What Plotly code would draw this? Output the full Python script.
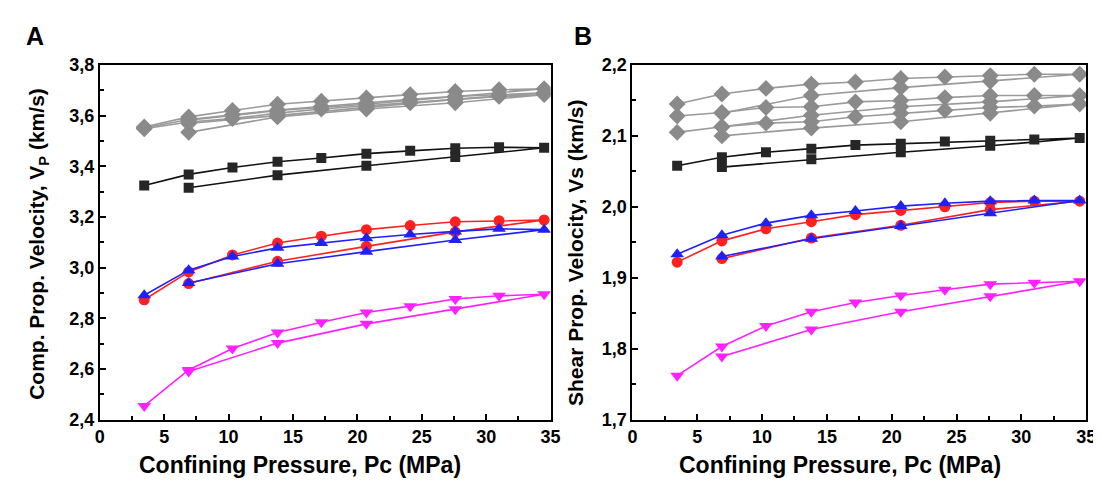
import plotly.graph_objects as go

# Pressure steps (MPa)
PRESS_LOAD = [6.9, 13.8, 20.7, 27.6, 34.5]
PRESS_UNLOAD = [31.0, 27.6, 24.1, 20.7, 17.2, 13.8, 10.3, 6.9, 3.45]

# Panel A: compressional velocity (km/s)
VP_GRAY1_LOAD = [3.582, 3.620, 3.645, 3.676, 3.706]
VP_GRAY1_UNLOAD = [3.702, 3.695, 3.683, 3.670, 3.657, 3.645, 3.620, 3.595, 3.555]
VP_GRAY2_LOAD = [3.569, 3.601, 3.633, 3.664, 3.690]
VP_GRAY2_UNLOAD = [3.683, 3.676, 3.664, 3.650, 3.636, 3.622, 3.603, 3.585, 3.551]
VP_GRAY3_LOAD = [3.534, 3.595, 3.626, 3.651, 3.683]
VP_GRAY3_UNLOAD = [3.676, 3.664, 3.651, 3.640, 3.626, 3.610, 3.588, 3.575, 3.548]
VP_BLACK_LOAD = [3.315, 3.365, 3.402, 3.437, 3.473]
VP_BLACK_UNLOAD = [3.475, 3.471, 3.461, 3.450, 3.433, 3.418, 3.395, 3.368, 3.324]
VP_RED_LOAD = [2.937, 3.025, 3.084, 3.141, 3.188]
VP_RED_UNLOAD = [3.185, 3.181, 3.166, 3.150, 3.124, 3.097, 3.050, 2.983, 2.873]
VP_BLUE_LOAD = [2.939, 3.015, 3.063, 3.109, 3.150]
VP_BLUE_UNLOAD = [3.153, 3.143, 3.131, 3.116, 3.097, 3.078, 3.044, 2.990, 2.891]
VP_MAG_LOAD = [2.590, 2.702, 2.778, 2.836, 2.895]
VP_MAG_UNLOAD = [2.889, 2.876, 2.848, 2.823, 2.784, 2.744, 2.681, 2.596, 2.454]

# Panel B: shear velocity (km/s)
VS_GRAY1_LOAD = [2.132, 2.157, 2.168, 2.177, 2.187]
VS_GRAY1_UNLOAD = [2.187, 2.185, 2.183, 2.181, 2.176, 2.173, 2.167, 2.159, 2.145]
VS_GRAY2_LOAD = [2.113, 2.129, 2.141, 2.148, 2.157]
VS_GRAY2_UNLOAD = [2.157, 2.157, 2.154, 2.150, 2.148, 2.141, 2.140, 2.133, 2.128]
VS_GRAY3_LOAD = [2.100, 2.111, 2.120, 2.132, 2.145]
VS_GRAY3_UNLOAD = [2.142, 2.140, 2.136, 2.132, 2.127, 2.120, 2.118, 2.113, 2.105]
VS_BLACK_LOAD = [2.056, 2.067, 2.077, 2.086, 2.097]
VS_BLACK_UNLOAD = [2.095, 2.093, 2.092, 2.089, 2.087, 2.082, 2.077, 2.070, 2.058]
VS_RED_LOAD = [1.927, 1.956, 1.974, 1.996, 2.008]
VS_RED_UNLOAD = [2.008, 2.006, 2.000, 1.995, 1.989, 1.979, 1.969, 1.952, 1.922]
VS_BLUE_LOAD = [1.930, 1.955, 1.973, 1.991, 2.009]
VS_BLUE_UNLOAD = [2.009, 2.008, 2.005, 2.001, 1.994, 1.988, 1.977, 1.960, 1.933]
VS_MAG_LOAD = [1.789, 1.827, 1.852, 1.874, 1.895]
VS_MAG_UNLOAD = [1.893, 1.891, 1.883, 1.875, 1.865, 1.852, 1.832, 1.803, 1.762]

GRAY_M = "#8a8a8a"
GRAY_L = "#9a9a9a"
BLACK = "#262626"
RED = "#ff2020"
BLUE = "#2020ff"
MAG = "#ff20ff"

STYLES = {
    "gray": dict(symbol="diamond", size=13, mcol=GRAY_M, lcol=GRAY_L),
    "black": dict(symbol="square", size=10, mcol=BLACK, lcol="#111111"),
    "red": dict(symbol="circle", size=11, mcol=RED, lcol=RED),
    "blue": dict(symbol="triangle-up", size=12, mcol=BLUE, lcol=BLUE),
    "mag": dict(symbol="triangle-down", size=12, mcol=MAG, lcol=MAG),
}

PANEL_A = [("gray", VP_GRAY1_LOAD, VP_GRAY1_UNLOAD), ("gray", VP_GRAY2_LOAD, VP_GRAY2_UNLOAD),
           ("gray", VP_GRAY3_LOAD, VP_GRAY3_UNLOAD), ("black", VP_BLACK_LOAD, VP_BLACK_UNLOAD),
           ("mag", VP_MAG_LOAD, VP_MAG_UNLOAD), ("red", VP_RED_LOAD, VP_RED_UNLOAD),
           ("blue", VP_BLUE_LOAD, VP_BLUE_UNLOAD)]
PANEL_B = [("gray", VS_GRAY1_LOAD, VS_GRAY1_UNLOAD), ("gray", VS_GRAY2_LOAD, VS_GRAY2_UNLOAD),
           ("gray", VS_GRAY3_LOAD, VS_GRAY3_UNLOAD), ("black", VS_BLACK_LOAD, VS_BLACK_UNLOAD),
           ("mag", VS_MAG_LOAD, VS_MAG_UNLOAD), ("red", VS_RED_LOAD, VS_RED_UNLOAD),
           ("blue", VS_BLUE_LOAD, VS_BLUE_UNLOAD)]

fig = go.Figure()
for panel, (xa, ya) in ((PANEL_A, ("x", "y")), (PANEL_B, ("x2", "y2"))):
    for key, load, unload in panel:
        st = STYLES[key]
        fig.add_trace(go.Scatter(
            x=PRESS_LOAD + PRESS_UNLOAD, y=load + unload, xaxis=xa, yaxis=ya,
            mode="lines+markers", showlegend=False,
            line=dict(color=st["lcol"], width=1.6),
            marker=dict(symbol=st["symbol"], size=st["size"], color=st["mcol"], line=dict(width=0)),
        ))

W, H = 1101, 482
FONT = "Liberation Sans"
tickfont = dict(family=FONT, size=18, color="black", weight="bold")


def xa(domain):
    return dict(domain=domain, range=[0, 35], dtick=5, tick0=0, ticks="inside", ticklen=6, tickwidth=1.5,
                tickcolor="black", showline=True, linecolor="black", linewidth=2, mirror=True,
                showgrid=False, zeroline=False, tickfont=tickfont,
                minor=dict(dtick=2.5, ticks="inside", ticklen=4, tickwidth=1.5, tickcolor="black", showgrid=False))


def ya(domain, rng, dt, anchor):
    return dict(domain=domain, range=rng, dtick=dt, tick0=rng[0], ticks="inside", ticklen=6, tickwidth=1.5,
                tickcolor="black", showline=True, linecolor="black", linewidth=2, mirror=True,
                showgrid=False, zeroline=False, tickfont=tickfont, tickformat=".1f", anchor=anchor,
                minor=dict(dtick=dt / 2, ticks="inside", ticklen=4, tickwidth=1.5, tickcolor="black", showgrid=False))


ydom = [1 - 419 / H, 1 - 49 / H]
fig.update_layout(
    width=W, height=H, margin=dict(l=0, r=0, t=0, b=0),
    paper_bgcolor="white", plot_bgcolor="white", separators=",.",
    xaxis=xa([88 / W, 545 / W]) | dict(anchor="y"),
    yaxis=ya(ydom, [2.4, 3.8], 0.2, "x"),
    xaxis2=xa([628 / W, 1088 / W]) | dict(anchor="y2"),
    yaxis2=ya(ydom, [1.7, 2.2], 0.1, "x2"),
)

xtfont = dict(family=FONT, size=23, color="black", weight="bold")
ytfont = dict(family=FONT, size=21, color="black", weight="bold")
ann = [
    dict(text="A", x=22 / W, y=1 - 19 / H, font=dict(family=FONT, size=25, color="black", weight="bold")),
    dict(text="B", x=578 / W, y=1 - 19 / H, font=dict(family=FONT, size=25, color="black", weight="bold")),
    dict(text="Comp. Prop. Velocity, V<sub>P</sub> (km/s)", x=26 / W, y=1 - 236 / H, textangle=-90, font=ytfont),
    dict(text="Shear Prop. Velocity, Vs (km/s)", x=571 / W, y=1 - 245 / H, textangle=-90, font=ytfont),
    dict(text="Confining Pressure, Pc (MPa)", x=291 / W, y=1 - 466 / H, font=xtfont),
    dict(text="Confining Pressure, Pc (MPa)", x=838 / W, y=1 - 466 / H, font=xtfont),
]
for a in ann:
    fig.add_annotation(xref="paper", yref="paper", showarrow=False, xanchor="center", yanchor="middle", **a)

fig.write_html("out.html")
